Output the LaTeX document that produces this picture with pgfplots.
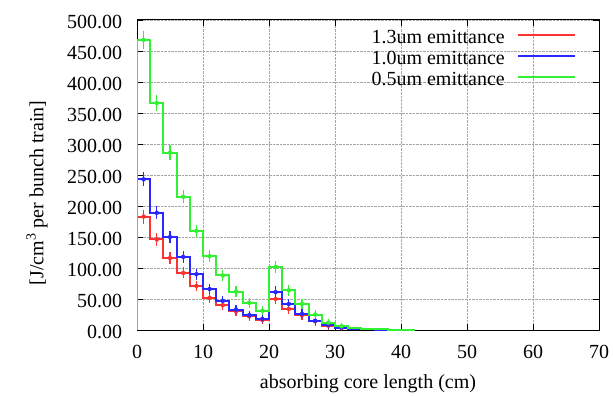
\documentclass[border=0pt]{standalone}
\usepackage{fontspec}
\setmainfont{Liberation Serif}
\usepackage{pgfplots}
\pgfplotsset{compat=1.18}
\usepackage{pgfplotstable}
\definecolor{cR}{RGB}{255,50,50}
\definecolor{cB}{RGB}{40,40,255}
\definecolor{cG}{RGB}{50,240,50}

% step data: left bin edges
\pgfplotstableread{
x g b r
0 0 0 0
0 468 243 183
2 366 189 146
4 286 150 116
6 215 118 92
8 160 90 71
10 119 66 52
12 88 47 40
14 62 33 30
16 44 24 22
18 31 18 16
20 102 61 50
22 64 42 34
24 42 26 24
26 25 15 14
28 12 8 7
30 6 4 3
32 3 2 1.5
34 2 1.2 0.9
36 1.2 0.6 0
38 0.7 0.3 0
40 0.4 0 0
42 0 0 0
}\steps

% error bars at bin centres
\pgfplotstableread{
x g ge b be r re
1 468 10 243 6.5 183 6.5
3 366 8.5 189 5.5 146 5
5 286 7 150 5 116 4.5
7 215 6 118 4.5 92 4
9 160 5 90 4 71 3.5
11 119 4.5 66 3.5 52 3
13 88 4 47 3 40 2.5
15 62 3.5 33 2.5 30 2
17 44 3 24 2 22 2
19 31 2.5 18 2 16 1.5
21 102 5 61 4.5 50 4
23 64 4 42 3.5 34 3
25 42 3 26 2.5 24 2.5
27 25 2.5 15 2 14 2
29 12 1.5 8 1.5 7 1.5
31 6 1 4 1 3 1
}\errs

\begin{document}
\fontsize{20}{24}\selectfont
\begin{tikzpicture}
\begin{axis}[
  name=ax,
  scale only axis,
  width=462pt, height=310pt,
  xmin=0, xmax=70, ymin=0, ymax=500,
  xtick={0,10,...,70},
  ytick={0,50,...,500},
  /pgf/number format/assume math mode=true,
  yticklabel style={/pgf/number format/fixed, /pgf/number format/fixed zerofill, /pgf/number format/precision=2, xshift=-8pt, yshift=-2pt},
  xticklabel style={anchor=base, yshift=-28pt},
  tick align=inside,
  major tick length=6pt,
  tick style={black, line width=0.6pt},
  axis line style={line width=1pt},
  grid=major,
  major grid style={densely dotted, gray!70, line width=0.6pt},
  xlabel={absorbing core length (cm)},
  xlabel style={at={(axis description cs:0.5,0)}, anchor=base, yshift=-58pt},
  ylabel={[J/cm\textsuperscript{3} per bunch train]},
  ylabel style={at={([xshift=-100pt,yshift=-18pt]axis description cs:0,0.5)}, anchor=center},
]
\addplot[cR, line width=2pt, const plot mark left] table[x=x, y=r] {\steps};
\addplot[cB, line width=2pt, const plot mark left] table[x=x, y=b] {\steps};
\addplot[cG, line width=2pt, const plot mark left] table[x=x, y=g] {\steps};

\addplot[only marks, mark=none, cR, error bars/.cd, y dir=both, y explicit,
  error bar style={cR, line width=1.3pt}, error mark options={cR, line width=1.3pt, mark size=3pt}]
  table[x=x, y=r, y error=re] {\errs};
\addplot[only marks, mark=none, cB, error bars/.cd, y dir=both, y explicit,
  error bar style={cB, line width=1.3pt}, error mark options={cB, line width=1.3pt, mark size=3pt}]
  table[x=x, y=b, y error=be] {\errs};
\addplot[only marks, mark=none, cG, error bars/.cd, y dir=both, y explicit,
  error bar style={cG, line width=1.3pt}, error mark options={cG, line width=1.3pt, mark size=3pt}]
  table[x=x, y=g, y error=ge] {\errs};
\end{axis}
% legend (text right-aligned, sample line to the right)
\node[anchor=base east, inner sep=0pt] at ([shift={(368pt,-23.3pt)}]ax.north west) {1.3um emittance};
\node[anchor=base east, inner sep=0pt] at ([shift={(368pt,-44.3pt)}]ax.north west) {1.0um emittance};
\node[anchor=base east, inner sep=0pt] at ([shift={(368pt,-65.3pt)}]ax.north west) {0.5um emittance};
\draw[cR, line width=2pt] ([shift={(381pt,-15pt)}]ax.north west) -- ++(57pt,0pt);
\draw[cB, line width=2pt] ([shift={(381pt,-36pt)}]ax.north west) -- ++(57pt,0pt);
\draw[cG, line width=2pt] ([shift={(381pt,-57pt)}]ax.north west) -- ++(57pt,0pt);
\pgfresetboundingbox
\path[use as bounding box] (ax.south west) ++(-137pt,-65pt) rectangle ([shift={(14pt,20pt)}]ax.north east);
\end{tikzpicture}
\end{document}
